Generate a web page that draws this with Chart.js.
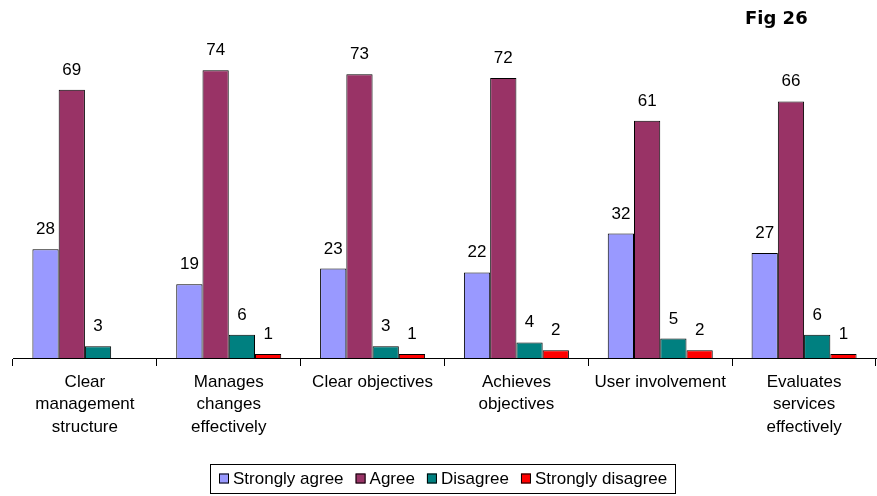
<!DOCTYPE html>
<html>
<head>
<meta charset="utf-8">
<script src="https://cdn.jsdelivr.net/npm/chart.js@4/dist/chart.umd.min.js"></script>
<style>
  html, body { margin: 0; padding: 0; background: #fff; }
  #wrap { width: 877px; height: 496px; position: relative; }
</style>
</head>
<body>
<div id="wrap"><canvas id="chart"></canvas></div>
<script>
// chart data
const categories = [
  ["Clear", "management", "structure"],
  ["Manages", "changes", "effectively"],
  ["Clear objectives"],
  ["Achieves", "objectives"],
  ["User involvement"],
  ["Evaluates", "services", "effectively"]
];
const stronglyAgree = [28, 19, 23, 22, 32, 27];
const agree = [69, 74, 73, 72, 61, 66];
const disagree = [3, 6, 3, 4, 5, 6];
const stronglyDisagree = [null, 1, 1, 2, 2, 1];

const FONT = "'Liberation Sans', Arial, sans-serif";

// value labels above each bar
const barLabels = {
  id: "barLabels",
  afterDatasetsDraw(chart) {
    const ctx = chart.ctx;
    ctx.save();
    ctx.font = "17px " + FONT;
    ctx.fillStyle = "#000";
    ctx.textAlign = "center";
    ctx.textBaseline = "alphabetic";
    chart.data.datasets.forEach((ds, i) => {
      chart.getDatasetMeta(i).data.forEach((bar, j) => {
        const v = ds.data[j];
        if (v == null) return;
        ctx.fillText(String(v), bar.x, bar.y - 15);
      });
    });
    ctx.restore();
  }
};

// "Fig 26" caption + boxed legend at the bottom
const extras = {
  id: "extras",
  afterDraw(chart) {
    const ctx = chart.ctx;
    ctx.save();
    ctx.font = "bold 18px 'DejaVu Sans', Verdana, sans-serif";
    ctx.fillStyle = "#000";
    ctx.textAlign = "left";
    ctx.textBaseline = "middle";
    ctx.fillText("Fig 26", 745, 19);

    // legend
    ctx.font = "17px " + FONT;
    const midY = 478.5;
    let x = 219;
    chart.data.datasets.forEach((ds, i) => {
      ctx.fillStyle = ds.backgroundColor;
      ctx.fillRect(x, midY - 5, 10, 10);
      ctx.strokeStyle = "#000";
      ctx.lineWidth = 1;
      ctx.strokeRect(x + 0.5, midY - 4.5, 9, 9);
      ctx.fillStyle = "#000";
      ctx.fillText(ds.label, x + 14, midY + 1);
      x += 14 + ctx.measureText(ds.label).width;
      if (i < chart.data.datasets.length - 1) x += 12;
    });
    ctx.strokeStyle = "#000";
    ctx.strokeRect(210.5, 464.5, Math.round(x + 8 - 210), 29);
    ctx.restore();
  }
};

const bar = (label, data, color) => ({
  label, data,
  backgroundColor: color,
  borderColor: "#000",
  borderWidth: 1,
  borderSkipped: "bottom"
});

new Chart(document.getElementById("chart"), {
  type: "bar",
  data: {
    labels: categories,
    datasets: [
      bar("Strongly agree", stronglyAgree, "#9999FF"),
      bar("Agree", agree, "#993366"),
      bar("Disagree", disagree, "#008080"),
      bar("Strongly disagree", stronglyDisagree, "#FF0000")
    ]
  },
  options: {
    responsive: true,
    maintainAspectRatio: false,
    animation: false,
    layout: { padding: { left: 13, right: 1, top: 47, bottom: 0 } },
    datasets: { bar: { categoryPercentage: 0.73, barPercentage: 1 } },
    scales: {
      x: {
        afterFit: (s) => { s.height = 496 - 358; },
        grid: { offset: true, drawOnChartArea: false, tickLength: 8, color: "#000" },
        border: { color: "#000" },
        ticks: {
          color: "#000",
          font: { family: FONT, size: 17, lineHeight: 1.32 },
          padding: 5,
          maxRotation: 0
        }
      },
      y: { display: false, min: 0, max: 80 }
    },
    plugins: {
      legend: { display: false },
      tooltip: { enabled: false }
    }
  },
  plugins: [barLabels, extras]
});
</script>
</body>
</html>
